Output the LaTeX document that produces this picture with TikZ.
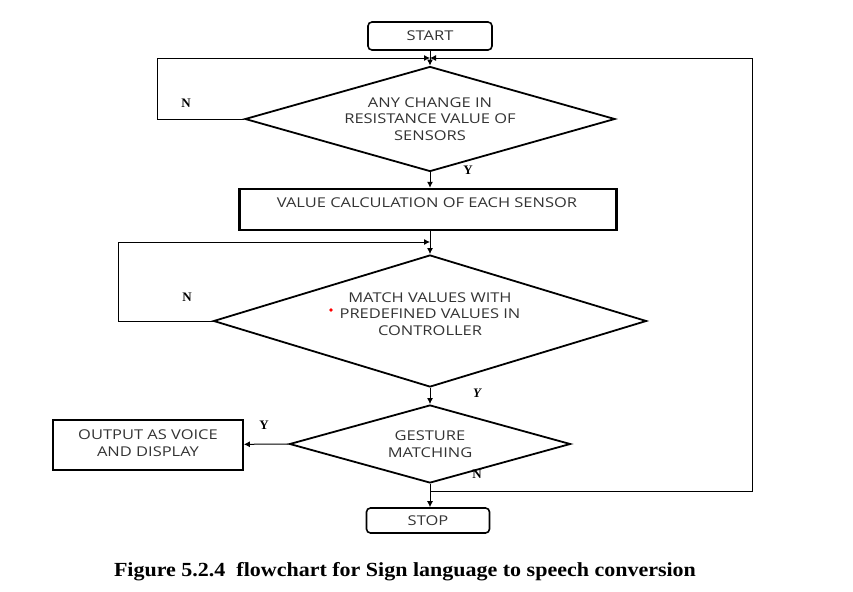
\documentclass[tikz,border=0pt]{standalone}
\usepackage{fontspec}
\setmainfont{Liberation Serif}
\newfontfamily\boxfont[FakeStretch=1.22]{Open Sans}
\newfontfamily\capfont[FakeStretch=1.1]{Liberation Serif}
\usetikzlibrary{shapes.geometric,arrows.meta}

\begin{document}
\begin{tikzpicture}[x=1pt,y=-1pt,
    boxtext/.style={font=\boxfont\fontsize{13.5}{16.5}\selectfont,text=black!80,align=center},
    box/.style={draw,line width=1.6pt,boxtext,inner sep=0pt},
    term/.style={box,rounded corners=4pt},
    decide/.style={draw,diamond,line width=1.8pt,inner sep=0pt,boxtext},
    yn/.style={font=\bfseries\fontsize{13}{14}\selectfont},
    flow/.style={line width=1pt,-{Latex[length=6pt,width=6pt]}},
    loop/.style={line width=0.8pt,-{Latex[length=6pt,width=6pt]}}]
    \useasboundingbox (0,0) rectangle (853,591);
    % boxes
    \node[term,minimum width=124,minimum height=28] (start) at (430,36) {START};
    \node[decide,minimum width=370,minimum height=105,aspect=3.5] (change) at (430,119)
      {ANY CHANGE IN\\RESISTANCE VALUE OF\\SENSORS};
    \node[box,line width=2.4pt,minimum width=377,minimum height=41] (calc) at (428,209.5) {};
    \node[boxtext] at (427,203) {VALUE CALCULATION OF EACH SENSOR};
    \node[decide,minimum width=433,minimum height=132,aspect=3.3] (match) at (430,321) {};
    \node[boxtext] at (430,314) {MATCH VALUES WITH\\PREDEFINED VALUES IN\\CONTROLLER};
    \node[decide,minimum width=281,minimum height=78,aspect=3.6] (gest) at (430,444)
      {GESTURE\\MATCHING};
    \node[box,minimum width=190,minimum height=50] (out) at (148,445) {};
    \node[boxtext] at (148,443) {OUTPUT AS VOICE\\AND DISPLAY};
    \node[term,minimum width=123,minimum height=25] (stop) at (428,520.5) {STOP};
    % merge points
    \coordinate (m1) at (430,58);
    \coordinate (m2) at (430,242);
    \coordinate (m3) at (430,491);
    % connectors
    \draw[flow] (start) -- (change.north);
    \draw[flow] (change.south) -- (change.south |- calc.north);
    \draw[flow] (calc.south -| match.north) -- (match.north);
    \draw[flow] (match.south) -- (gest.north);
    \draw[flow] (gest.west) -- (out);
    \draw[flow] (gest.south) -- (gest.south |- stop.north);
    \draw[loop] (change.west) -- (157,119) -- (157,58) -- (m1);
    \draw[loop] (match.west) -- (118,321) -- (118,242) -- (m2);
    \draw[loop] (m3) -- (752,491) -- (752,58) -- (m1);
    % labels
    \node[yn] at (186,103) {N};
    \node[yn] at (468,170) {Y};
    \node[yn] at (187,297) {N};
    \node[yn] at (477,393) {\itshape Y};
    \node[yn] at (264,425) {Y};
    \node[yn] at (477,474) {N};
    \fill[red] (331,310) circle (1.8);
    \node[font=\capfont\bfseries\fontsize{20}{24}\selectfont] (caption) at (405,572)
      {Figure 5.2.4\ \ flowchart for Sign language to speech conversion};
\end{tikzpicture}
\end{document}
